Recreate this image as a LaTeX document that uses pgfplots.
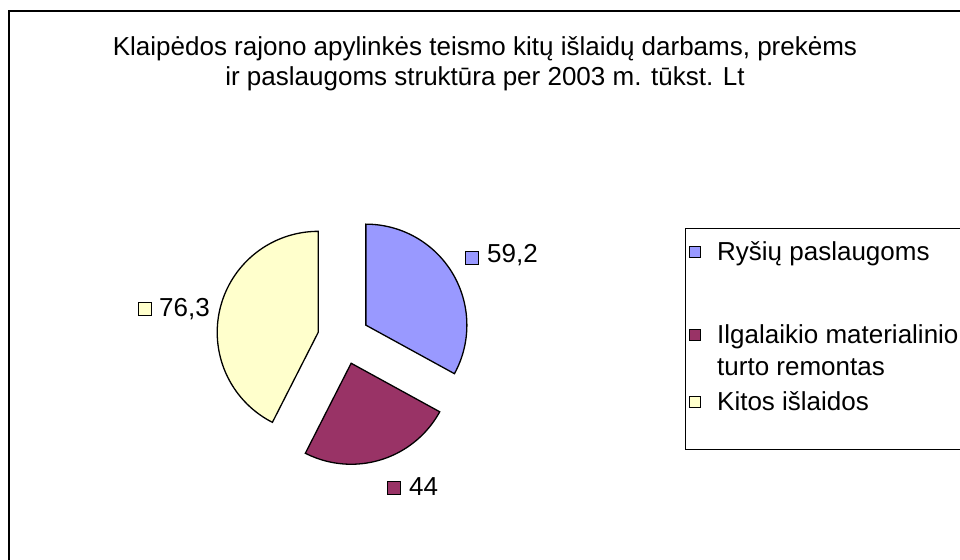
\documentclass[border=0pt]{standalone}
\usepackage{pgfplots}
\pgfplotsset{compat=1.18}
\usepackage{fontspec}
\setmainfont{Liberation Sans}
\definecolor{cA}{HTML}{9999FF}
\definecolor{cB}{HTML}{993366}
\definecolor{cC}{HTML}{FFFFCC}
% data values (tukst. Lt)
\def\va{59.2}
\def\vb{44}
\def\vc{76.3}
\begin{document}
\fontsize{26bp}{30bp}\selectfont
\begin{tikzpicture}
\path[use as bounding box] (0,0) rectangle (960bp,560bp);
\pgfmathsetmacro\tot{\va+\vb+\vc}
\pgfmathsetmacro\fa{\va/\tot}
\pgfmathsetmacro\fb{\vb/\tot}
\pgfmathsetmacro\aA{90}
\pgfmathsetmacro\aB{90-360*\fa}
\pgfmathsetmacro\aC{\aB-360*\fb}
\pgfmathsetmacro\aD{-270}
\pgfmathsetmacro\cx{343.5}
\pgfmathsetmacro\cy{221.6}
\pgfmathsetmacro\R{101}
\pgfmathsetmacro\ex{26}
\pgfmathsetmacro\pxA{\cx+\ex*cos((\aA+\aB)/2)}
\pgfmathsetmacro\pyA{\cy+\ex*sin((\aA+\aB)/2)}
\pgfmathsetmacro\pxB{\cx+\ex*cos((\aB+\aC)/2)}
\pgfmathsetmacro\pyB{\cy+\ex*sin((\aB+\aC)/2)}
\pgfmathsetmacro\pxC{\cx+\ex*cos((\aC+\aD)/2)}
\pgfmathsetmacro\pyC{\cy+\ex*sin((\aC+\aD)/2)}
\begin{axis}[
  at={(0,0)}, anchor=south west,
  width=960bp, height=560bp, scale only axis,
  xmin=0, xmax=960, ymin=0, ymax=560,
  hide axis,
]
% outer frame
\addplot[draw=black, line width=1.2bp] coordinates {(9,-50) (9,549) (1020,549)};
% legend box
\addplot[draw=black, line width=1bp] coordinates {(1020,331) (685,331) (685,110) (1020,110)};
% slices
\addplot[fill=cA, draw=black, line width=1.3bp, domain=\aB:\aA, samples=80, variable=\t]
  ({\pxA+\R*cos(\t)}, {\pyA+\R*sin(\t)}) -- (axis cs:\pxA,\pyA) -- cycle;
\addplot[fill=cB, draw=black, line width=1.3bp, domain=\aC:\aB, samples=80, variable=\t]
  ({\pxB+\R*cos(\t)}, {\pyB+\R*sin(\t)}) -- (axis cs:\pxB,\pyB) -- cycle;
\addplot[fill=cC, draw=black, line width=1.3bp, domain=\aD:\aC, samples=80, variable=\t]
  ({\pxC+\R*cos(\t)}, {\pyC+\R*sin(\t)}) -- (axis cs:\pxC,\pyC) -- cycle;
% data label markers
\addplot[only marks, mark=square*, mark size=6.5bp, mark options={fill=cA, draw=black, line width=0.9bp}] coordinates {(472,302)};
\addplot[only marks, mark=square*, mark size=6.5bp, mark options={fill=cB, draw=black, line width=0.9bp}] coordinates {(394,72)};
\addplot[only marks, mark=square*, mark size=6.5bp, mark options={fill=cC, draw=black, line width=0.9bp}] coordinates {(144.5,251.5)};
% legend markers
\addplot[only marks, mark=square*, mark size=5.5bp, mark options={fill=cA, draw=black, line width=0.9bp}] coordinates {(695,308)};
\addplot[only marks, mark=square*, mark size=5.5bp, mark options={fill=cB, draw=black, line width=0.9bp}] coordinates {(695,225)};
\addplot[only marks, mark=square*, mark size=5.5bp, mark options={fill=cC, draw=black, line width=0.9bp}] coordinates {(695,158)};
% texts
\node[anchor=base] at (axis cs:485,504) {Klaipėdos rajono apylinkės teismo kitų išlaidų darbams, prekėms};
\node[anchor=base] at (axis cs:485,474) {ir paslaugoms struktūra per 2003 m. tūkst. Lt};
\node[anchor=base west, inner sep=0pt] at (axis cs:487,297) {59,2};
\node[anchor=base west, inner sep=0pt] at (axis cs:409,64) {44};
\node[anchor=base west, inner sep=0pt] at (axis cs:159,243) {76,3};
\node[anchor=base west, inner sep=0pt] at (axis cs:717,299.5) {Ryšių paslaugoms};
\node[anchor=base west, inner sep=0pt] at (axis cs:717,216.5) {Ilgalaikio materialinio};
\node[anchor=base west, inner sep=0pt] at (axis cs:717,184.5) {turto remontas};
\node[anchor=base west, inner sep=0pt] at (axis cs:717,149.5) {Kitos išlaidos};
\end{axis}
\end{tikzpicture}
\end{document}
